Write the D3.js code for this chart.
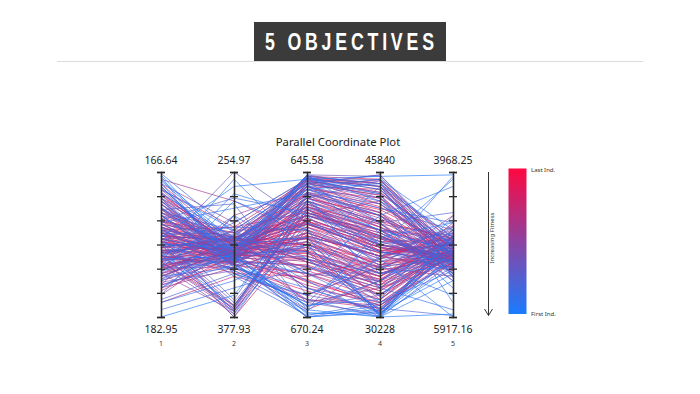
<!DOCTYPE html>
<html>
<head>
<meta charset="utf-8">
<script src="https://cdn.jsdelivr.net/npm/d3@7"></script>
<style>
  html, body { margin: 0; padding: 0; background: #ffffff; }
  svg { display: block; }
</style>
</head>
<body>
<svg id="chart" width="700" height="394"></svg>
<script>
// ---------------- DATA ----------------
const headerText = "5 OBJECTIVES";
const chartTitle = "Parallel Coordinate Plot";
const objectiveNames = ["1", "2", "3", "4", "5"];
const axisTopValues = [166.64, 254.97, 645.58, 45840, 3968.25];
const axisBottomValues = [182.95, 377.93, 670.24, 30228, 5917.16];
const legendTop = "Last Ind.";
const legendBottom = "First Ind.";
const arrowLabel = "Increasing Fitness";

// objective values per individual (index 0 = first individual, last = last individual)
const obj1 = [166.97,167.46,182.95,167.94,173.98,176.43,171.53,168.60,178.06,174.80,
180.50,167.13,173.16,177.24,170.72,181.32,175.61,169.09,178.87,172.35,
167.62,174.47,176.75,169.90,179.69,173.49,168.27,176.10,178.38,171.21,
182.13,172.84,175.12,169.58,177.40,174.14,166.80,179.36,172.02,175.94,
170.23,177.73,173.82,180.99,168.92,176.59,172.51,178.71,170.88,174.80,
173.16,175.61,171.53,177.24,169.90,174.47,178.38,172.35,176.10,168.27,
173.98,179.69,170.72,175.12,176.75,172.84,178.06,169.25,174.80,173.49,
176.43,171.86,179.04,171.21,175.45,174.14,177.73,170.23,175.77,172.51,
177.08,173.82,169.58,176.10,172.19,178.71,174.47,170.88,176.75,173.16,
175.28,171.53,177.40,168.60,174.80,178.06,172.84,175.94,170.55,174.14,
167.94,175.61,169.90,178.06,174.47,172.84,180.50,171.53,175.12,168.27,
176.10,170.72,177.40,173.16,179.36,171.21,176.75,174.14,167.46,171.86,
177.73,173.82,174.80,170.23,176.43,173.49,179.69,172.19,177.08,169.58,
173.16,175.12,174.14,176.10,169.09,175.45,173.82,181.32,178.38,175.77,
174.14,168.60,173.49,170.72,175.45,172.84,176.43,173.82,177.24,174.14,
171.53,176.75,169.58,174.47,178.87,173.16,175.61,167.94,177.73,172.51,
174.80,170.88,176.43,173.82,180.01,172.19,176.10,168.92,177.40,173.49,
175.12,171.53,178.38,174.14,172.84,176.75,170.23,175.77,174.47,178.06,
171.86,176.10,173.82,177.08,169.90,174.80,172.51,179.36,173.49,175.45,
171.21,176.43,174.14,169.25,177.73,173.16,175.12,172.19,176.75,174.47];

const obj2 = [322.60,313.99,359.49,331.21,267.27,326.29,334.89,304.15,279.56,318.91,
291.86,341.04,328.75,273.41,322.60,347.19,368.09,310.30,325.06,285.71,
316.45,338.58,261.12,331.21,313.99,375.47,326.29,298.01,336.12,318.91,
353.34,343.50,309.07,328.75,291.86,323.83,306.61,333.66,277.10,371.78,
321.37,328.75,301.70,341.04,316.45,332.44,311.53,323.83,282.02,337.35,
363.17,316.45,331.21,304.15,325.06,377.93,318.91,333.66,310.30,328.75,
373.01,322.60,313.99,254.97,336.12,321.37,312.76,326.29,369.32,307.84,
329.98,318.91,338.58,304.15,323.83,365.63,316.45,332.44,312.76,326.29,
375.47,321.37,310.30,328.75,317.68,309.07,331.21,323.83,370.55,313.99,
326.29,306.61,336.12,322.60,316.45,328.75,320.14,311.53,333.66,325.06,
298.01,331.21,311.53,373.01,368.09,326.29,316.45,328.75,310.30,323.83,
333.66,341.04,326.29,313.99,291.86,321.37,373.01,309.07,279.56,328.75,
318.91,312.76,322.60,329.98,304.15,326.29,336.12,310.30,327.52,317.68,
332.44,311.53,323.83,370.55,318.91,328.75,313.99,343.50,321.37,316.45,
329.98,301.70,312.76,326.29,318.91,323.83,315.22,328.75,322.60,318.91,
316.45,309.07,336.12,323.83,328.75,301.70,341.04,318.91,312.76,326.29,
377.93,313.99,331.21,321.37,326.29,306.61,336.12,322.60,316.45,328.75,
311.53,333.66,320.14,325.06,315.22,368.09,326.29,310.30,329.98,322.60,
316.45,332.44,312.76,323.83,328.75,318.91,310.30,331.21,322.60,326.29,
313.99,321.37,333.66,317.68,311.53,327.52,320.14,325.06,315.22,322.60];

const obj3 = [669.75,648.54,650.51,670.24,646.81,669.01,668.27,647.55,655.44,646.32,
660.38,666.54,669.50,652.98,648.05,657.91,651.75,662.84,670.24,649.28,
656.68,667.77,659.14,646.07,664.08,654.21,668.51,646.81,665.31,650.51,
661.61,669.99,647.55,657.91,669.01,648.54,660.38,667.28,652.48,649.28,
646.57,662.84,655.44,669.25,647.06,670.24,650.02,659.14,666.54,647.80,
649.03,646.32,656.68,662.84,648.54,652.98,647.31,668.27,651.75,646.07,
654.95,660.38,648.05,654.21,657.91,647.06,665.31,650.02,651.01,646.57,
661.61,649.28,667.77,655.44,646.07,652.48,659.14,647.55,654.21,648.54,
650.51,657.42,646.81,664.08,652.98,660.87,648.05,655.94,649.53,647.06,
658.40,651.50,666.54,646.32,654.46,659.88,649.03,656.92,650.51,647.55,
646.81,662.84,652.98,650.51,651.99,661.61,659.14,651.01,665.31,646.81,
660.38,667.28,657.42,650.02,648.54,652.48,653.47,663.34,656.43,649.28,
659.39,667.77,656.92,651.50,647.55,648.05,669.01,654.46,664.82,652.98,
655.94,650.51,660.87,651.99,654.95,658.40,649.53,666.54,653.47,656.92,
647.55,652.48,657.91,654.46,662.35,651.50,658.90,653.96,656.43,646.57,
660.38,648.05,657.42,667.28,652.98,647.06,663.34,654.21,658.40,650.02,
655.44,646.32,661.36,651.99,656.68,648.54,665.80,651.50,659.88,654.95,
649.28,662.84,653.96,647.06,657.91,652.48,655.94,660.87,650.51,664.32,
653.47,648.05,656.92,658.90,647.55,661.86,652.98,656.43,651.01,659.39,
649.03,654.46,663.83,655.44,657.91,646.57,651.99,660.38,653.96,650.02];

const obj4 = [31009,44591,39595,30696,45372,30228,32102,38034,30228,42718,
31009,36473,30384,34912,45059,30540,35692,41156,31477,33350,
30384,38815,44279,40376,30228,37253,34131,43498,30696,36473,
32570,31789,45528,30540,39595,41937,34912,30228,38034,41156,
43967,31165,33350,36785,39283,30852,44903,30384,35692,40376,
42405,44591,37253,34131,41156,38815,43498,32570,39595,44279,
36161,31789,42718,38346,35224,45059,30852,40376,37722,43967,
33350,41469,30540,36473,45372,39283,34599,43030,37253,41937,
38034,35536,44279,32102,38815,33663,42405,36785,39908,43654,
34912,39595,31165,44591,37722,34131,41156,36161,40220,43342,
44279,32570,38346,37253,38971,33038,34912,39595,31789,43030,
33975,31477,32102,40376,45059,38658,38034,35848,36785,40844,
34599,33350,33350,38971,45528,41469,34131,38034,31477,42718,
36473,39908,34287,38658,37097,35536,40532,35692,38034,35848,
44903,38971,35536,37410,32726,39595,30852,37722,36785,44279,
33663,43967,34912,31165,39595,42405,36473,37253,32414,41156,
35536,45059,33350,38346,35848,43030,30852,40220,34287,37722,
41469,32102,38658,43654,36161,39283,36785,33663,40532,31789,
38034,42093,35224,34599,43342,33038,38971,36785,39908,33975,
41781,37410,31477,37097,34912,44591,39595,34599,37722,41156];

const obj5 = [5137.60,4845.26,5040.15,5332.49,4007.23,5878.18,4552.92,4065.70,5429.93,4942.71,
4845.26,5917.16,4942.71,5235.04,4747.81,5137.60,5624.82,4163.14,5040.15,5819.71,
5235.04,4650.37,5371.47,5527.38,4747.81,5176.57,4903.73,5722.27,5098.62,4026.72,
4942.71,5293.51,4981.68,4845.26,5429.93,4650.37,5040.15,5176.57,4786.79,5332.49,
5098.62,5897.67,4884.24,4708.84,5215.55,4981.68,5390.96,4825.77,5137.60,4513.95,
5040.15,4903.73,5254.53,4747.81,5098.62,5176.57,4942.71,4845.26,5332.49,4981.68,
4806.28,5079.13,5235.04,5040.15,4708.84,5137.60,4903.73,5371.47,4864.75,5059.64,
4786.79,5196.06,4981.68,4942.71,5118.11,5293.51,4845.26,5020.66,5176.57,4747.81,
5098.62,4903.73,5254.53,5001.17,5137.60,4825.77,5079.13,4923.22,5215.55,4962.19,
5157.09,4884.24,5040.15,5176.57,5098.62,4864.75,5235.04,4981.68,4825.77,5137.60,
4845.26,4903.73,5176.57,4747.81,5254.53,4942.71,5098.62,4845.26,5196.06,5079.13,
4650.37,5137.60,4884.24,5429.93,5215.55,4962.19,5098.62,4923.22,5293.51,5059.64,
4747.81,5118.11,4903.73,5176.57,5040.15,5332.49,5079.13,5196.06,4981.68,5098.62,
4689.35,5137.60,5020.66,5157.09,4923.22,5371.47,5098.62,4552.92,5137.60,5040.15,
4903.73,5176.57,5079.13,4942.71,5118.11,5001.17,4825.77,5157.09,5254.53,5079.13,
4845.26,5176.57,5040.15,4942.71,5254.53,5098.62,4786.79,5137.60,4981.68,5332.49,
4903.73,5040.15,5196.06,4884.24,5098.62,5235.04,5020.66,5137.60,4825.77,5293.51,
5059.64,4942.71,5176.57,5001.17,5079.13,5215.55,4923.22,5118.11,4864.75,5040.15,
5157.09,4981.68,5098.62,4903.73,5196.06,5020.66,5274.02,4845.26,5059.64,5137.60,
4962.19,5079.13,5176.57,4923.22,5020.66,5118.11,5235.04,4884.24,5098.62,5059.64];

const objectiveData = [obj1, obj2, obj3, obj4, obj5];

// ---------------- LAYOUT ----------------
const svg = d3.select("#chart");
const plotTop = 172, plotBottom = 317;
const colorFirst = "#1a7cff", colorLast = "#ff0840";

// header
svg.append("rect").attr("x", 254).attr("y", 22).attr("width", 192).attr("height", 39)
  .attr("fill", "#3b3b3b");
svg.append("line").attr("x1", 57).attr("x2", 643).attr("y1", 61.5).attr("y2", 61.5)
  .attr("stroke", "#dcdcdc").attr("stroke-width", 1);
const hScale = 0.74;
svg.append("text").attr("transform", `translate(265,49.5) scale(${hScale},1)`)
  .attr("text-anchor", "start")
  .attr("font-family", "'Liberation Sans', Arial, sans-serif")
  .attr("font-weight", "bold").attr("font-size", 24)
  .attr("textLength", 169 / hScale).attr("lengthAdjust", "spacing")
  .attr("fill", "#ffffff").text(headerText);

// title
svg.append("text").attr("x", 338).attr("y", 146).attr("text-anchor", "middle")
  .attr("font-family", "'Noto Sans', 'Open Sans', sans-serif").attr("font-size", 11.3)
  .attr("fill", "#222").text(chartTitle);

const x = d3.scalePoint().domain(objectiveNames).range([161, 453]);
const yScales = objectiveNames.map((n, i) =>
  d3.scaleLinear().domain([axisBottomValues[i], axisTopValues[i]]).range([plotBottom, plotTop]));

const nInd = obj1.length;
const color = d3.scaleLinear().domain([0, nInd - 1]).range([colorFirst, colorLast])
  .interpolate(d3.interpolateRgb);

const line = d3.line();
// draw last individuals first so that the first ones sit on top
const individuals = d3.range(nInd).reverse();

svg.append("g").selectAll("path").data(individuals).join("path")
  .attr("d", i => line(objectiveNames.map((n, k) => [x(n), yScales[k](objectiveData[k][i])])))
  .attr("fill", "none")
  .attr("stroke", i => color(i))
  .attr("stroke-width", 1)
  .attr("stroke-opacity", 0.65);

// axes
objectiveNames.forEach((n, k) => {
  const ys = yScales[k];
  const tv = d3.range(7).map(j => axisBottomValues[k] + (axisTopValues[k] - axisBottomValues[k]) * j / 6);
  const gL = svg.append("g").attr("transform", `translate(${x(n)},0)`)
    .call(d3.axisLeft(ys).tickValues(tv).tickSize(4).tickFormat(""));
  const gR = svg.append("g").attr("transform", `translate(${x(n)},0)`)
    .call(d3.axisRight(ys).tickValues(tv).tickSize(4).tickFormat(""));
  [gL, gR].forEach(g => {
    g.selectAll("path, line").attr("stroke", "#2a2a2a").attr("stroke-width", 1.3);
  });
  svg.append("text").attr("x", x(n)).attr("y", 164).attr("text-anchor", "middle")
    .attr("font-family", "'Noto Sans', 'Open Sans', sans-serif").attr("font-size", 10.5)
    .attr("fill", "#222").text(String(axisTopValues[k]));
  svg.append("text").attr("x", x(n)).attr("y", 332.5).attr("text-anchor", "middle")
    .attr("font-family", "'Noto Sans', 'Open Sans', sans-serif").attr("font-size", 10.5)
    .attr("fill", "#222").text(String(axisBottomValues[k]));
  svg.append("text").attr("x", x(n)).attr("y", 346).attr("text-anchor", "middle")
    .attr("font-family", "'Noto Sans', 'Open Sans', sans-serif").attr("font-size", 7)
    .attr("fill", "#333").text(n);
});

// colorbar
const defs = svg.append("defs");
const grad = defs.append("linearGradient").attr("id", "cbar")
  .attr("x1", 0).attr("y1", 1).attr("x2", 0).attr("y2", 0);
d3.range(11).forEach(j => {
  grad.append("stop").attr("offset", (j * 10) + "%").attr("stop-color", color((nInd - 1) * j / 10));
});
const cbY = d3.scaleLinear().domain([0, nInd - 1]).range([314, 168.5]);
svg.append("rect").attr("x", 508.5).attr("y", cbY(nInd - 1)).attr("width", 18)
  .attr("height", cbY(0) - cbY(nInd - 1)).attr("fill", "url(#cbar)");
svg.append("text").attr("x", 531).attr("y", cbY(nInd - 1) + 3)
  .attr("font-family", "'Noto Sans', sans-serif").attr("font-size", 6).attr("fill", "#333")
  .text(legendTop);
svg.append("text").attr("x", 531).attr("y", cbY(0) + 2)
  .attr("font-family", "'Noto Sans', sans-serif").attr("font-size", 6).attr("fill", "#333")
  .text(legendBottom);

// fitness arrow
svg.append("line").attr("x1", 488.5).attr("x2", 488.5).attr("y1", 172).attr("y2", 315.5)
  .attr("stroke", "#333").attr("stroke-width", 1);
svg.append("path").attr("d", "M484.5,309 L488.5,315.5 L492.5,309")
  .attr("fill", "none").attr("stroke", "#333").attr("stroke-width", 1);
svg.append("text").attr("transform", "translate(494,238) rotate(-90)")
  .attr("text-anchor", "middle")
  .attr("font-family", "'Noto Sans', sans-serif").attr("font-size", 6).attr("fill", "#333")
  .text(arrowLabel);
</script>
</body>
</html>
